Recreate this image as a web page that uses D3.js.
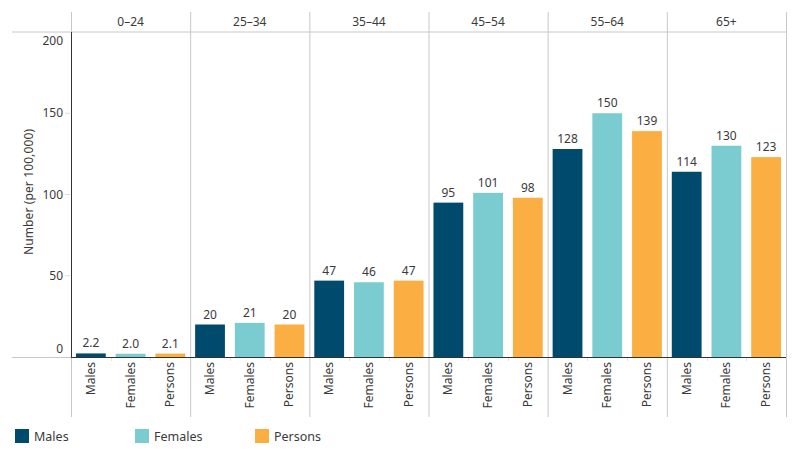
<!DOCTYPE html>
<html>
<head>
<meta charset="utf-8">
<script src="https://cdn.jsdelivr.net/npm/d3@7"></script>
<style>
body{margin:0;background:#fff;}
text{font-family:"Noto Sans",sans-serif;fill:#3a3a3a;}
</style>
</head>
<body>
<svg id="chart" width="800" height="460"></svg>
<script>
const groups = ["0–24","25–34","35–44","45–54","55–64","65+"];
const series = ["Males","Females","Persons"];
const males = [2.2, 20, 47, 95, 128, 114];
const females = [2.0, 21, 46, 101, 150, 130];
const persons = [2.1, 20, 47, 98, 139, 123];
const yTicks = [0, 50, 100, 150, 200];
const colors = ["#004a6d", "#7bccd1", "#fbae41"];

(function () {
const seriesValues = [males, females, persons];
const data = [];
groups.forEach((g, gi) => series.forEach((s, si) => data.push({group: g, series: s, value: seriesValues[si][gi]})));

const svg = d3.select("#chart");
const pLeft = 71, pRight = 786, pTop = 32, pBottom = 357, headTop = 12, panelBottom = 417;
const x0 = d3.scaleBand().domain(groups).range([pLeft, pRight]).padding(0);
const x1 = d3.scaleBand().domain(series).range([0, x0.bandwidth()]).paddingInner(0.25).paddingOuter(0.125);
const y = d3.scaleLinear().domain([0, 200]).range([pBottom, pTop]);
const color = d3.scaleOrdinal().domain(series).range(colors);

svg.append("line").attr("x1", 12).attr("x2", pRight).attr("y1", pTop).attr("y2", pTop).attr("stroke", "#c8c8c8");
groups.forEach((g) => {
  svg.append("line").attr("x1", x0(g) + 0.5).attr("x2", x0(g) + 0.5).attr("y1", headTop).attr("y2", panelBottom).attr("stroke", "#c8c8c8");
});
svg.append("line").attr("x1", pRight + 0.5).attr("x2", pRight + 0.5).attr("y1", headTop).attr("y2", panelBottom).attr("stroke", "#c8c8c8");

svg.selectAll(".hdr").data(groups).enter().append("text")
  .attr("x", d => x0(d) + x0.bandwidth() / 2).attr("y", 26)
  .attr("text-anchor", "middle").attr("font-size", 12).text(d => d);

yTicks.forEach(t => {
  let ly = y(t) + 4;
  if (t === 200) ly = y(t) + 13;
  if (t === 0) ly = y(t) - 4;
  svg.append("text").attr("x", 63).attr("y", ly).attr("text-anchor", "end").attr("font-size", 12).text(t);
  if (t !== 0 && t !== 200) svg.append("line").attr("x1", 65).attr("x2", 70).attr("y1", y(t)).attr("y2", y(t)).attr("stroke", "#ddd");
});
svg.append("text").attr("transform", `translate(33,192) rotate(-90)`)
  .attr("text-anchor", "middle").attr("font-size", 12).attr("textLength", 126).attr("lengthAdjust", "spacing")
  .text("Number (per 100,000)");

const bars = svg.append("g");
bars.selectAll("rect").data(data).enter().append("rect")
  .attr("x", d => x0(d.group) + x1(d.series))
  .attr("width", x1.bandwidth())
  .attr("y", d => y(d.value))
  .attr("height", d => y(0) - y(d.value))
  .attr("fill", d => color(d.series));

bars.selectAll("text").data(data).enter().append("text")
  .attr("x", d => x0(d.group) + x1(d.series) + x1.bandwidth() / 2)
  .attr("y", d => y(d.value) - 6)
  .attr("text-anchor", "middle").attr("font-size", 12)
  .text(d => d.value < 10 ? d.value.toFixed(1) : d3.format("d")(d.value));

data.forEach(d => {
  const bx = x0(d.group) + x1(d.series);
  if (d.series !== "Males") {
    const sx = Math.round(bx - x1.step() * 0.25 / 2) + 0.5;
    svg.append("line").attr("x1", sx).attr("x2", sx).attr("y1", pBottom).attr("y2", pBottom + 4).attr("stroke", "#e3e3e3");
  }
  const cx = bx + x1.bandwidth() / 2;
  svg.append("text").attr("transform", `translate(${cx + 4},362) rotate(-90)`)
    .attr("text-anchor", "end").attr("font-size", 12).text(d.series);
});

svg.append("line").attr("x1", 12).attr("x2", pLeft).attr("y1", pBottom + 0.5).attr("y2", pBottom + 0.5).attr("stroke", "#c8c8c8");
svg.append("line").attr("x1", pLeft).attr("x2", pRight).attr("y1", pBottom + 0.5).attr("y2", pBottom + 0.5).attr("stroke", "#333");
svg.append("line").attr("x1", pLeft + 0.5).attr("x2", pLeft + 0.5).attr("y1", pTop).attr("y2", pBottom + 1).attr("stroke", "#333");

const lg = svg.append("g");
series.forEach((s, i) => {
  lg.append("rect").attr("x", 15 + i * 120).attr("y", 429).attr("width", 14).attr("height", 14).attr("fill", color(s));
  lg.append("text").attr("x", 34 + i * 120).attr("y", 441).attr("font-size", 12.5).text(s);
});
})();
</script>
</body>
</html>
